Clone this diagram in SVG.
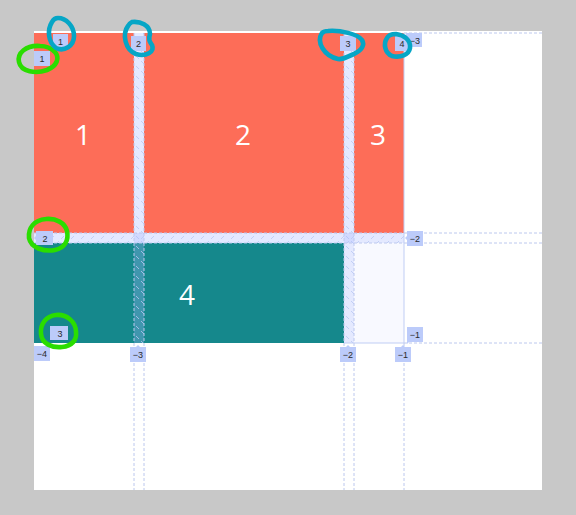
<svg xmlns="http://www.w3.org/2000/svg" width="576" height="515" viewBox="0 0 576 515">
<defs>
<pattern id="hv" width="10" height="10" patternUnits="userSpaceOnUse">
<path d="M1 1 L4 4 M6 6 L9 9" stroke="#b9c7f2" stroke-width="0.8"/>
</pattern>
<pattern id="hh" width="10" height="10" patternUnits="userSpaceOnUse">
<path d="M1 9 L4 6 M6 4 L9 1" stroke="#b9c7f2" stroke-width="0.8"/>
</pattern>
<style>
.item{stroke:none}
.red{fill:#fd6d58}
.teal{fill:#15888c}
.big{font-family:"Open Sans","Noto Sans",sans-serif;font-size:28px;fill:#fff;text-anchor:middle}
.gap{fill:#a4b6ff;fill-opacity:0.3}
.gl{stroke:#bcc8ee;stroke-width:1;stroke-dasharray:3 2;fill:none}
.badge{fill:#bccbfa}
.bt{font-family:"Liberation Sans",Arial,sans-serif;font-size:9px;fill:#2a2a2a;text-anchor:middle}
.gc{fill:none;stroke:#2add00;stroke-width:4.6;stroke-linecap:round}
.cc{fill:none;stroke:#06a6c6;stroke-width:4.6;stroke-linecap:round}
</style>
</defs>
<rect width="576" height="515" fill="#c8c8c8"/>
<rect x="34" y="31" width="508" height="459" fill="#fff"/>
<g id="item-1"><rect class="item red" x="34" y="33" width="100" height="200"/><text class="big" x="83" y="145">1</text></g>
<g id="item-2"><rect class="item red" x="144" y="33" width="200" height="200"/><text class="big" x="243" y="145">2</text></g>
<g id="item-3"><rect class="item red" x="354" y="33" width="50" height="200"/><text class="big" x="378" y="145">3</text></g>
<g id="item-4"><rect class="item teal" x="34" y="243" width="310" height="100"/><text class="big" x="187" y="305">4</text></g>
<g id="empty-cell"><rect x="354" y="243" width="50" height="100" fill="#f8f9ff"/></g>
<g id="gaps">
<rect class="gap" x="134" y="33" width="10" height="310"/>
<rect x="134" y="33" width="10" height="310" fill="url(#hv)"/>
<rect class="gap" x="344" y="33" width="10" height="310"/>
<rect x="344" y="33" width="10" height="310" fill="url(#hv)"/>
<rect class="gap" x="34" y="233" width="370" height="10"/>
<rect x="34" y="233" width="370" height="10" fill="url(#hh)"/>
</g>
<g id="connectors">
<path class="gl" d="M134 33V490M144 33V490M344 33V490M354 33V490M404 343V490"/>
<path class="gl" d="M34 233H542M34 243H542M404 343H542M404 33H542"/>
<path d="M404 33V343H344" stroke="#c0cdf4" stroke-width="1" fill="none"/>
</g>
<g id="labels">
<rect class="badge" x="53" y="34" width="15" height="15"/><text class="bt" x="60.5" y="45">1</text>
<rect class="badge" x="34" y="51" width="16" height="15"/><text class="bt" x="42" y="62">1</text>
<rect class="badge" x="131" y="36" width="15" height="15"/><text class="bt" x="138.5" y="47">2</text>
<rect class="badge" x="340" y="36" width="16" height="15"/><text class="bt" x="348" y="47">3</text>
<rect class="badge" x="406" y="33" width="16" height="14"/><text class="bt" x="415" y="44">−3</text>
<rect class="badge" x="395" y="36" width="13" height="15"/><text class="bt" x="402" y="47">4</text>
<path class="badge" d="M36 231H53V245H36V240L34 238L36 236Z"/><text class="bt" x="45" y="241.5">2</text>
<rect class="badge" x="50" y="326" width="18" height="14"/><text class="bt" x="60" y="337">3</text>
<rect class="badge" x="34" y="346" width="16" height="15"/><text class="bt" x="42" y="357">−4</text>
<path class="badge" d="M130 347H136L138 345L140 347H146V362H130Z"/><text class="bt" x="138" y="358">−3</text>
<path class="badge" d="M340 347H346L348 345L350 347H356V362H340Z"/><text class="bt" x="348" y="358">−2</text>
<path class="badge" d="M395 347H401L403 345L405 347H411V362H395Z"/><text class="bt" x="403" y="358">−1</text>
<path class="badge" d="M407 231H423V246H407V240L405 238L407 236Z"/><text class="bt" x="415" y="242">−2</text>
<path class="badge" d="M407 327H423V342H409L407 344Z"/><text class="bt" x="415" y="338">−1</text>
</g>
<g id="annotations">
<path class="gc" d="M40 46C26 45 17 53 19 62C21 72 36 74 47 70C57 66 60 58 55 52C51 48 46 46 40 46"/>
<path class="cc" d="M52 22C47 30 48 42 56 48C64 52 74 46 74 36C74 26 66 18 58 18C55 18 53 20 52 22"/>
<path class="cc" d="M128 26C122 34 125 50 136 54C146 57 155 52 152 45C150 42 148 40 150 34C150 25 140 21 132 22C130 23 129 24 128 26"/>
<path class="cc" d="M322 33C316 42 324 56 338 59C344 60 348 56 354 54C362 50 365 45 362 40C358 34 340 30 328 31C325 31 323 32 322 33"/>
<path class="cc" d="M387 38C383 44 385 53 392 56C400 58 409 55 410 48C411 40 404 35 396 34C391 34 388 36 387 38"/>
<path class="gc" d="M46 219C34 220 28 228 29 238C31 248 44 252 55 250C65 248 69 240 67 231C65 223 56 218 46 219"/>
<path class="gc" d="M56 315C46 316 40 324 41 334C42 344 52 348 62 347C72 346 77 340 76 332C76 322 67 314 56 315"/>
</g>
</svg>
